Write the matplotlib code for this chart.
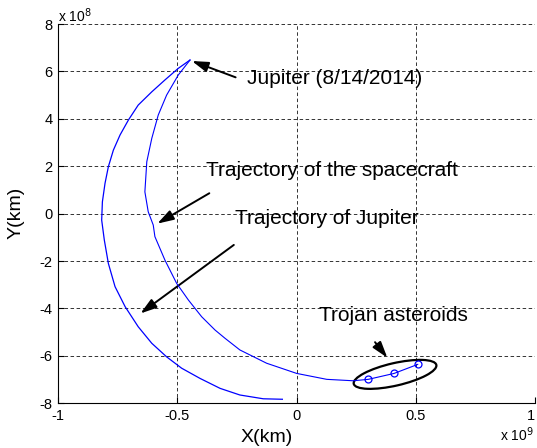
import numpy as np
import matplotlib
matplotlib.use('Agg')
import matplotlib.pyplot as plt
from matplotlib.patches import Ellipse, FancyArrowPatch
from matplotlib.transforms import Affine2D

plt.rcParams['font.family'] = ['Liberation Sans', 'DejaVu Sans']

# x en 1e9 km, y en 1e8 km
jup_x = [-0.447, -0.496, -0.552, -0.607, -0.664, -0.705, -0.740, -0.768, -0.789,
         -0.803, -0.814, -0.817, -0.806, -0.789, -0.761, -0.719, -0.664, -0.607,
         -0.545, -0.482, -0.405, -0.321, -0.238, -0.140, -0.060]
jup_y = [6.48, 6.13, 5.64, 5.14, 4.58, 3.95, 3.32, 2.68, 1.98,
         1.28, 0.50, -0.27, -1.11, -2.10, -3.08, -3.92, -4.77, -5.47,
         -6.04, -6.52, -6.95, -7.37, -7.65, -7.81, -7.83]

sc_x = [-0.447, -0.496, -0.545, -0.580, -0.607, -0.628, -0.636, -0.622, -0.601,
        -0.594, -0.552, -0.503, -0.454, -0.398, -0.342, -0.300, -0.238, -0.126,
        0.000, 0.126, 0.237, 0.300, 0.408, 0.507]
sc_y = [6.48, 5.85, 5.00, 4.16, 3.18, 2.19, 0.92, 0.08, -0.48,
        -0.97, -1.96, -2.94, -3.64, -4.35, -4.91, -5.26, -5.75, -6.31,
        -6.74, -6.99, -7.05, -6.99, -6.74, -6.36]

trojan_x = [0.300, 0.408, 0.507]
trojan_y = [-6.99, -6.74, -6.36]

x_ticks = [-1, -0.5, 0, 0.5, 1]
x_labels = ['-1', '-0.5', '0', '0.5', '1']
y_ticks = [-8, -6, -4, -2, 0, 2, 4, 6, 8]
y_labels = ['-8', '-6', '-4', '-2', '0', '2', '4', '6', '8']

fig = plt.figure(figsize=(5.37, 4.48), dpi=100)
ax = fig.add_axes([0.108, 0.0998, 0.889, 0.8466])

ax.plot(jup_x, jup_y, color='#0000ff', lw=0.9)
ax.plot(sc_x, sc_y, color='#0000ff', lw=0.8)
ax.plot(trojan_x, trojan_y, 'o', color='#0000ff', mfc='none', ms=5, mew=0.9)

# ellipse autour des troyens (y ramene en 1e9 pour garder la forme)
tr = Affine2D().scale(1, 10) + ax.transData
ax.add_patch(Ellipse((0.412, -0.678), 0.355, 0.095, angle=13, fill=False,
                     ec='k', lw=1.6, transform=tr))

ax.set_xlim(-1, 1)
ax.set_ylim(-8, 8)
ax.set_xticks(x_ticks)
ax.set_xticklabels(x_labels)
ax.set_yticks(y_ticks)
ax.set_yticklabels(y_labels)
ax.get_xticklabels()[-1].set_ha('right')
ax.tick_params(direction='in', length=4, labelsize=10.5, pad=4)
ax.grid(True, color='#333333', lw=0.7, linestyle=(0, (3.6, 2.6)))
ax.set_axisbelow(True)
for s in ['top', 'right']:
    ax.spines[s].set_visible(False)

# annotations
def fleche(tail, tip):
    ax.add_patch(FancyArrowPatch(tail, tip, arrowstyle='-|>,head_length=0.7,head_width=0.22',
                                 mutation_scale=14, color='k', lw=1.4))

fleche((-0.245, 5.71), (-0.45, 6.48))
fleche((-0.356, 0.92), (-0.594, -0.48))
fleche((-0.254, -1.25), (-0.664, -4.28))
fleche((0.321, -5.33), (0.387, -6.17))

ax.text(-0.207, 5.72, 'Jupiter (8/14/2014)', fontsize=15, va='center')
ax.text(-0.380, 1.80, 'Trajectory of the spacecraft', fontsize=15, va='center')
ax.text(-0.258, -0.22, 'Trajectory of Jupiter', fontsize=15, va='center')
ax.text(0.095, -4.30, 'Trojan asteroids', fontsize=15, va='center')

fig.text(16 / 537, 1 - 213 / 448, 'Y(km)', rotation=90, fontsize=14,
         ha='center', va='center')
fig.text(267 / 537, 1 - 437 / 448, 'X(km)', fontsize=14, ha='center', va='center')
fig.text(58 / 537, 1 - 16 / 448, r'x 10$^{8}$', fontsize=10, ha='left', va='center')
fig.text(534 / 537, 1 - 435 / 448, r'x 10$^{9}$', fontsize=10, ha='right', va='center')

fig.savefig('out.png', dpi=100)
